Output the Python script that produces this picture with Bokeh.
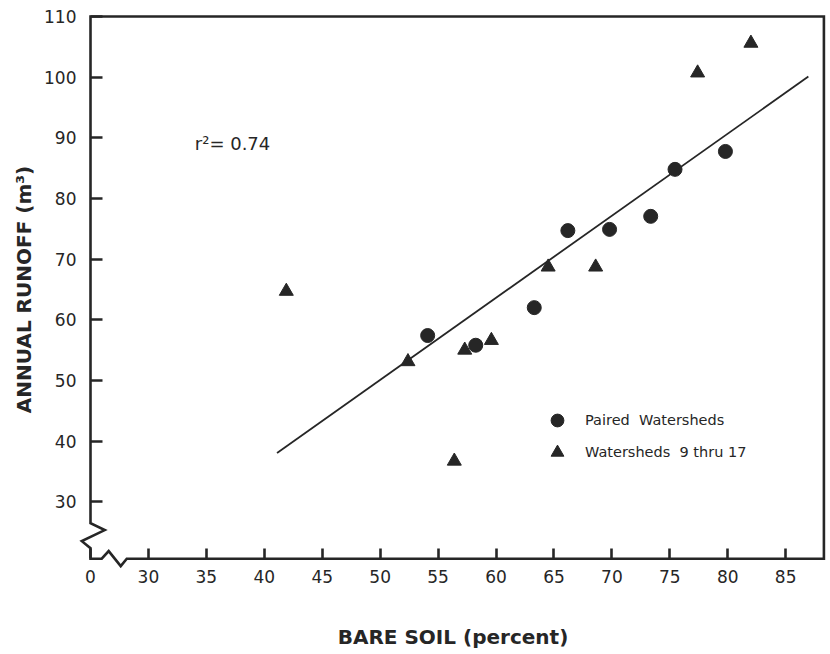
from bokeh.plotting import figure
from bokeh.models import (Range1d, FixedTicker, PolyAnnotation, Legend, LegendItem, LinearAxis)
from bokeh.core.properties import value
from bokeh.embed import file_html
from bokeh.resources import INLINE

# Paired watersheds: bare soil (%) vs annual runoff (m3)
paired_bare = [54.1, 58.25, 63.3, 66.2, 69.8, 73.35, 75.45, 79.8]
paired_runoff = [57.4, 55.8, 62.0, 74.7, 74.9, 77.05, 84.8, 87.75]

# Watersheds 9 thru 17
ws_bare = [41.9, 52.4, 56.4, 57.3, 59.6, 64.5, 68.6, 77.4, 82.0]
ws_runoff = [64.7, 53.1, 36.7, 55.0, 56.6, 68.7, 68.7, 100.7, 105.6]

# Fitted regression line
fit_slope = 1.353
fit_intercept = -17.56
fit_x = [41.1, 86.96]
fit_y = [fit_intercept + fit_slope * x for x in fit_x]
r_squared = 0.74

x_ticks = [25, 30, 35, 40, 45, 50, 55, 60, 65, 70, 75, 80, 85]
x_tick_labels = {25: "0"}
y_ticks = [30, 40, 50, 60, 70, 80, 90, 100, 110]

INK = "#262626"
# drawn box (axes meet at the broken origin)
X0, X1 = 25, 88.3
Y0, Y1 = 20.6, 110

# the plotting area is a little larger than the box, so the zigzag breaks fit inside it
p = figure(width=830, height=654,
           x_range=Range1d(23.964, 88.61), y_range=Range1d(18.99, 110.99),
           output_backend="svg", toolbar_location=None,
           min_border_left=78, min_border_right=3, min_border_top=10, min_border_bottom=86)
p.grid.visible = False
p.outline_line_color = None
p.background_fill_color = "white"
p.border_fill_color = "white"

# Box with broken axes (zigzags near the origin)
frame_xs = [X0, X0, X1, X1, 28.13, 27.61, 26.57, 25.97, X0, X0, 24.25, 26.23, X0]
frame_ys = [26.47, Y1, Y1, Y0, Y0, 19.38, 21.86, Y0, Y0, 22.35, 23.5, 25.32, 26.47]
p.add_layout(PolyAnnotation(xs=frame_xs, ys=frame_ys, fill_alpha=0,
                            line_color=INK, line_alpha=1.0, line_width=2.6,
                            line_join="miter"))

# Labelled axes sit at the edge of the plotting area: tick labels and titles only
for ax in (p.xaxis[0], p.yaxis[0]):
    ax.axis_line_color = None
    ax.major_tick_in = 0
    ax.major_tick_out = 0
    ax.minor_tick_line_color = None
    ax.major_label_text_font = "DejaVu Sans"
    ax.major_label_text_font_size = "17px"
    ax.major_label_text_color = INK
    ax.major_label_text_font_style = "normal"
    ax.axis_label_text_font = "DejaVu Sans"
    ax.axis_label_text_font_style = "bold"
    ax.axis_label_text_font_size = "20px"
    ax.axis_label_text_color = INK

p.xaxis.ticker = FixedTicker(ticks=x_ticks)
p.xaxis.major_label_overrides = x_tick_labels
p.xaxis.major_label_standoff = 1
p.xaxis.axis_label = "BARE SOIL (percent)"
p.xaxis.axis_label_standoff = 39

p.yaxis.ticker = FixedTicker(ticks=y_ticks)
p.yaxis.major_label_standoff = 2
p.yaxis.axis_label = "ANNUAL RUNOFF (m³)"
p.yaxis.axis_label_standoff = 5


# Inward tick marks, drawn on the box edges (no labels of their own)
def tick_axis(loc, ticks, length):
    return LinearAxis(fixed_location=loc, ticker=FixedTicker(ticks=ticks),
                      axis_line_color=None, major_tick_in=length, major_tick_out=0,
                      major_tick_line_width=2.6, major_tick_line_color=INK,
                      minor_tick_line_color=None, major_label_text_color=None,
                      major_label_text_font_size="1px", major_label_standoff=0)


p.add_layout(tick_axis(Y0, x_ticks, 10), "below")
p.add_layout(tick_axis(X0, y_ticks, 12), "left")

p.line(fit_x, fit_y, line_color=INK, line_width=1.8)
r_paired = p.scatter(paired_bare, paired_runoff, marker="circle", size=14,
                     fill_color=INK, line_color=INK)
r_ws = p.scatter(ws_bare, ws_runoff, marker="triangle", size=14,
                 fill_color=INK, line_color=INK)

p.text(x=[34.0], y=[89.1], text=[f"r²= {r_squared:.2f}"], text_font=value("DejaVu Sans"),
       text_font_size="18px", text_color=INK, text_baseline="middle", text_align="left")

legend = Legend(items=[LegendItem(label="Paired  Watersheds", renderers=[r_paired]),
                       LegendItem(label="Watersheds  9 thru 17", renderers=[r_ws])],
                location=(460, 100), orientation="vertical",
                glyph_width=38, glyph_height=32, spacing=0, padding=0, margin=0,
                label_standoff=9, label_text_font="DejaVu Sans", label_text_font_size="14.5px",
                label_text_color=INK, background_fill_alpha=0, border_line_alpha=0)
p.add_layout(legend)

open("out.html", "w").write(file_html(p, INLINE))
